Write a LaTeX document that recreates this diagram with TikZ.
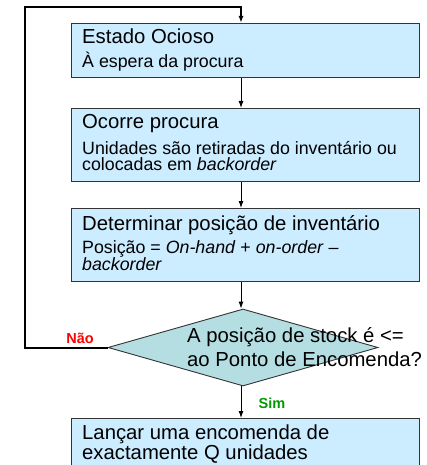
\documentclass[tikz,border=0pt]{standalone}
\usepackage{fontspec}
\setmainfont{Liberation Sans}
\usetikzlibrary{shapes.geometric,arrows.meta,positioning}
\definecolor{boxblue}{RGB}{204,236,255}
\definecolor{dectail}{RGB}{181,222,227}
\definecolor{naored}{RGB}{255,0,0}
\definecolor{simgreen}{RGB}{0,153,0}

\begin{document}
\begin{tikzpicture}[x=1pt, y=-1pt,
	box/.style={draw=black!80, line width=0.9pt, fill=boxblue, minimum width=348pt, inner sep=0pt, anchor=north west},
	dec/.style={draw=black!80, line width=0.9pt, fill=dectail, diamond, shape aspect=3.5, minimum width=270pt, minimum height=77pt, inner sep=0pt},
	ttl/.style={anchor=base west, inner sep=0pt, font=\fontsize{20.3}{24}\selectfont},
	sub/.style={anchor=base west, inner sep=0pt, font=\fontsize{17.8}{20}\selectfont},
	lbl/.style={inner sep=0pt, font=\fontsize{14.5}{16}\selectfont\bfseries},
	arr/.style={line width=0.9pt, -{Latex[length=7pt,width=5pt]}},
	loopline/.style={line width=2pt, -{Latex[length=7pt,width=5pt]}}]
	\clip (0,0) rectangle (426,465);
	\fill[white] (0,0) rectangle (426,465);

	\node[box, minimum height=54pt] (b1) at (71,23) {};
	\node[box, minimum height=73pt] (b2) at (71,108) {};
	\node[box, minimum height=73pt] (b3) at (71,208) {};
	\node[dec] (d) at (243,347.5) {};
	\node[box, minimum height=70pt] (b4) at (71,418) {};

	\node[ttl] (t1) at (82,44) {Estado Ocioso};
	\node[sub] (s1) at (82,68) {À espera da procura};
	\node[ttl] (t2) at (82,129) {Ocorre procura};
	\node[sub] (s2) at (82,154) {Unidades são retiradas do inventário ou};
	\node[sub] (s2b) at (82,170) {colocadas em \textit{backorder}};
	\node[ttl] (t3) at (82,230) {Determinar posição de inventário};
	\node[sub] (s3) at (82,253) {Posição = \textit{On-hand} + \textit{on-order} --};
	\node[sub] (s3b) at (82,270) {\textit{backorder}};
	\node[ttl] (q1) at (187,342) {A posição de stock é <=};
	\node[ttl] (q2) at (187,366) {ao Ponto de Encomenda?};
	\node[ttl] (t4) at (82,439) {Lançar uma encomenda de};
	\node[ttl] (t4b) at (82,459) {exactamente Q unidades};

	\node[lbl, text=naored] (nao) at (80,338) {Não};
	\node[lbl, text=simgreen] (sim) at (272,403) {Sim};

	\coordinate (spine) at (241,0);
	\coordinate (lc) at (25,7);

	\draw[arr] (b1.south -| spine) -- (b2.north -| spine);
	\draw[arr] (b2.south -| spine) -- (b3.north -| spine);
	\draw[arr] (b3.south -| spine) -- (d.north -| spine);
	\draw[arr] (d.south -| spine) -- (b4.north -| spine);
	\draw[loopline] (d.west) -| (lc) -| (b1.north -| spine);
\end{tikzpicture}
\end{document}
